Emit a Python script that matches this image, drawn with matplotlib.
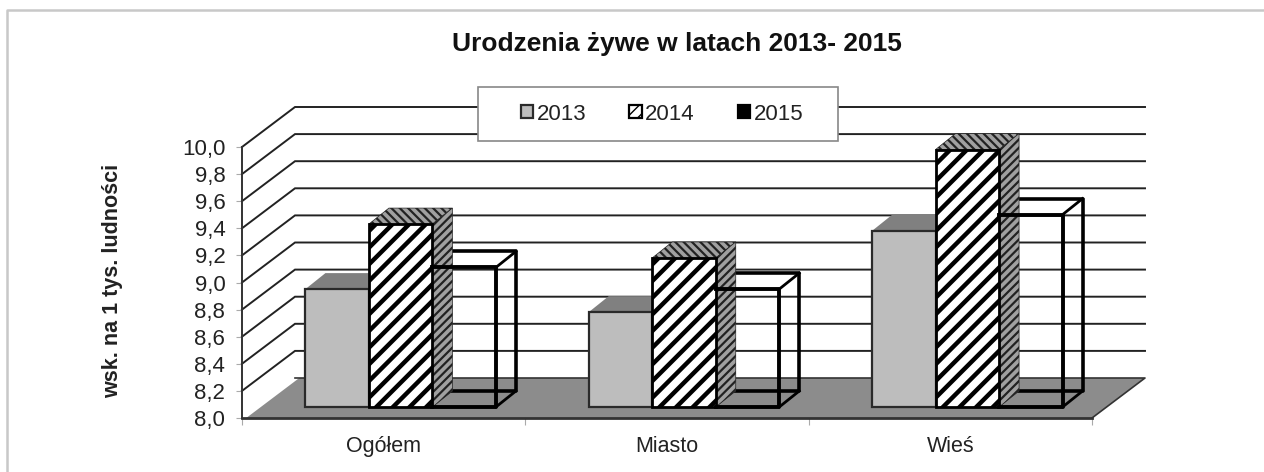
#!/usr/bin/env python3
# coding: utf-8

import numpy as np
import matplotlib
matplotlib.use("Agg")
import matplotlib.pyplot as plt
from matplotlib.patches import Patch, Polygon, Rectangle

categories = ["Ogółem", "Miasto", "Wieś"]
years = ["2013", "2014", "2015"]
v2013 = [8.87, 8.70, 9.30]
v2014 = [9.35, 9.10, 9.90]
v2015 = [9.03, 8.87, 9.42]
y_ticks = [8.0, 8.2, 8.4, 8.6, 8.8, 9.0, 9.2, 9.4, 9.6, 9.8, 10.0]

plt.rcParams["font.family"] = ["Liberation Sans", "DejaVu Sans"]

W, H = 1264, 472
fig = plt.figure(figsize=(W / 100, H / 100), dpi=100)
ax = fig.add_axes([242 / W, 1 - 418 / H, 850 / W, 271 / H])
ax.set_xlim(0, 3)
ax.set_ylim(8, 10)
ax.patch.set_alpha(0)

# pixel sizes of the fake 3D box, turned into data units
px_x = 3 / 850
px_y = 2 / 271
wall_dx, wall_dy = 53 * px_x, 40 * px_y
depth_dx, depth_dy = 20 * px_x, 16 * px_y
bar_w = 63.5 * px_x
shift_x, lift_y = 17 * px_x, 11 * px_y
DARK = "#2a2a2a"


def poly(pts, z, hatch_lw=None, **kw):
    p = Polygon(pts, closed=True, clip_on=False, zorder=z, **kw)
    if hatch_lw is not None:
        p.set_hatch_linewidth(hatch_lw)
    ax.add_patch(p)


# floor
poly([(0.015, 8), (3, 8), (3 + wall_dx, 8 + wall_dy), (wall_dx + 0.015, 8 + wall_dy)], 1,
     facecolor="#8c8c8c", edgecolor="none")

# wall grid
for v in y_ticks[1:]:
    ax.plot([0, wall_dx, 3 + wall_dx], [v, v + wall_dy, v + wall_dy], color="#222222", lw=1.4,
            clip_on=False, zorder=2, solid_joinstyle="miter")
ax.plot([wall_dx, 3 + wall_dx, 3], [8 + wall_dy, 8 + wall_dy, 8], color="#333333", lw=1.2,
        clip_on=False, zorder=2)

for i in range(3):
    x0 = i + 0.5 + shift_x - 1.5 * bar_w
    base = 8 + lift_y
    # 2013
    x, top = x0, v2013[i] + lift_y
    poly([(x, top), (x + depth_dx, top + depth_dy), (x + bar_w + depth_dx, top + depth_dy), (x + bar_w, top)], 3,
         facecolor="#808080", edgecolor="none")
    poly([(x, base), (x + bar_w, base), (x + bar_w, top), (x, top)], 4,
         facecolor="#bdbdbd", edgecolor=DARK, lw=1.6)

    # 2015 back part, behind the 2014 bar
    x, top = x0 + 2 * bar_w, v2015[i] + lift_y
    ax.plot([x, x + bar_w + depth_dx, x + bar_w + depth_dx, x], [top + depth_dy, top + depth_dy, base + depth_dy, base + depth_dy],
            color="black", lw=2.6, clip_on=False, zorder=5)
    ax.plot([x + bar_w, x + bar_w + depth_dx], [top, top + depth_dy], color="black", lw=2, clip_on=False, zorder=5)
    ax.plot([x + bar_w, x + bar_w + depth_dx], [base, base + depth_dy], color="black", lw=2, clip_on=False, zorder=5)

    # 2014
    x, top = x0 + bar_w, v2014[i] + lift_y
    poly([(x, top), (x + depth_dx, top + depth_dy), (x + bar_w + depth_dx, top + depth_dy), (x + bar_w, top)], 6,
         hatch_lw=1.6, facecolor="#a0a0a0", edgecolor="#222222", hatch="\\\\\\\\", lw=0.5)
    poly([(x + bar_w, base), (x + bar_w + depth_dx, base + depth_dy), (x + bar_w + depth_dx, top + depth_dy), (x + bar_w, top)], 6,
         hatch_lw=1.6, facecolor="#a0a0a0", edgecolor="#222222", hatch="////", lw=0.5)
    poly([(x, base), (x + bar_w, base), (x + bar_w, top), (x, top)], 7,
         hatch_lw=3.2, facecolor="white", edgecolor="black", hatch="//", lw=2)

    # 2015 front
    x, top = x0 + 2 * bar_w, v2015[i] + lift_y
    ax.plot([x, x + bar_w, x + bar_w, x], [top, top, base, base], color="black", lw=2.8,
            clip_on=False, zorder=8)

for s in ["top", "right"]:
    ax.spines[s].set_visible(False)
ax.spines["left"].set_color("#333333")
ax.spines["bottom"].set_color("#333333")
ax.spines["left"].set_linewidth(1.4)
ax.spines["bottom"].set_linewidth(2)
ax.spines["left"].set_zorder(9)
ax.spines["bottom"].set_zorder(9)

ax.set_yticks(y_ticks)
ax.set_yticklabels([f"{v:.1f}".replace(".", ",") for v in y_ticks], fontsize=16, color="#222222")
ax.set_xticks([0, 1, 2, 3])
ax.set_xticklabels([])
ax.set_xticks([0.5, 1.5, 2.5], minor=True)
ax.set_xticklabels(categories, minor=True, fontsize=15.5, color="#222222")
ax.tick_params(axis="x", which="minor", length=0, pad=13)
ax.tick_params(axis="x", which="major", length=5, color="#aaaaaa")
ax.tick_params(axis="y", length=4, color="#aaaaaa", pad=8)
ax.set_ylabel("wsk. na 1 tys. ludności", fontsize=15.5, fontweight="bold", color="#222222", labelpad=0)
ax.yaxis.set_label_coords(123 / W, 0.5 * (1 - 396 / H) + 0.5 * (1 - 165 / H), transform=fig.transFigure)

fig.text(677 / W, 1 - 41 / H, "Urodzenia żywe w latach 2013- 2015", ha="center", va="center_baseline",
         fontsize=19, fontweight="bold", color="#111111")

# legend box is drawn on its own, it is wider than the entries need
ax.add_patch(Rectangle((478 / W, 1 - 141 / H), 360 / W, 54 / H, transform=fig.transFigure, clip_on=False,
                       facecolor="white", edgecolor="#888888", lw=1.2, zorder=9.5))
handles = [
    Patch(facecolor="#bdbdbd", edgecolor=DARK, lw=1.6, label=years[0]),
    Patch(facecolor="white", edgecolor="black", hatch="///", lw=1.6, label=years[1]),
    Patch(facecolor="black", edgecolor="black", lw=1.6, label=years[2]),
]
leg = ax.legend(handles=handles, ncol=3, loc="center", bbox_to_anchor=(662 / W, 1 - 114 / H),
                bbox_transform=fig.transFigure, frameon=False, fontsize=16, handlelength=0.56,
                handleheight=0.56, handletextpad=0.14, columnspacing=1.95, labelcolor="#222222")
leg.set_zorder(10)

# faint lines left over from the frame of the scan, top and left only
fig.add_artist(plt.Line2D([7 / W, 7 / W, 1264 / W], [0, 1 - 10 / H, 1 - 10 / H], transform=fig.transFigure,
                          color="#c8c8c8", lw=1.8))

fig.savefig("out.png", dpi=100)
